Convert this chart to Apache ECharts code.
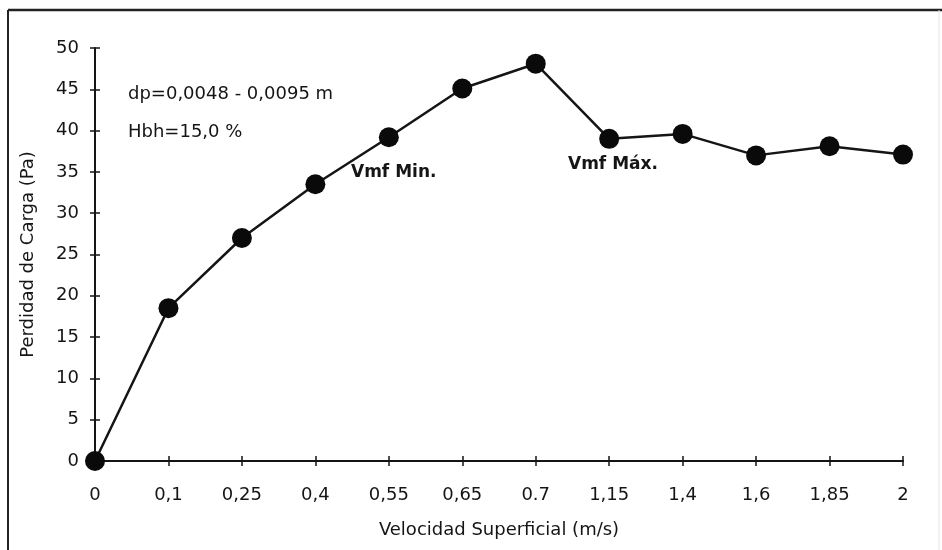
<!DOCTYPE html>
<html><head><meta charset="utf-8">
<script src="https://cdn.jsdelivr.net/npm/echarts@6/dist/echarts.min.js"></script>
<style>html,body{margin:0;padding:0;background:#fff}#c{width:942px;height:550px}</style>
</head><body><div id="c"></div>
<script>
const categories = ['0','0,1','0,25','0,4','0,55','0,65','0.7','1,15','1,4','1,6','1,85','2'];
const values = [0, 18.5, 27, 33.5, 39.2, 45.1, 48.1, 39, 39.6, 37, 38.1, 37.1];
const yTicks = {min: 0, max: 50, interval: 5};
const FONT = '"DejaVu Sans", Verdana, sans-serif';
const INK = '#151515';

const chart = echarts.init(document.getElementById('c'), null, {renderer: 'canvas'});
const baseX = {
  type: 'category', data: categories, boundaryGap: false, position: 'bottom',
  axisLine: {lineStyle: {color: INK, width: 2}},
  axisTick: {show: true, alignWithLabel: true, length: 5, lineStyle: {color: INK, width: 1.5}},
  axisLabel: {color: INK, fontFamily: FONT, fontSize: 18, margin: 25},
  splitLine: {show: false}
};
const baseY = {
  type: 'value', min: yTicks.min, max: yTicks.max, interval: yTicks.interval, position: 'left',
  axisLine: {show: true, lineStyle: {color: INK, width: 2}},
  axisTick: {show: true, length: 5, lineStyle: {color: INK, width: 1.5}},
  axisLabel: {color: INK, fontFamily: FONT, fontSize: 18, margin: 16},
  splitLine: {show: false}
};
chart.setOption({
  backgroundColor: '#fff',
  animation: false,
  grid: {left: 95, right: 39, top: 48, bottom: 89},
  xAxis: [
    Object.assign({}, baseX, {
      name: 'Velocidad Superficial (m/s)', nameLocation: 'middle', nameGap: 60,
      nameTextStyle: {color: INK, fontFamily: FONT, fontSize: 18}
    }),
    Object.assign({}, baseX, {
      axisLine: {show: false}, axisLabel: {show: false},
      axisTick: {show: true, inside: true, alignWithLabel: true, length: 5, lineStyle: {color: INK, width: 1.5}}
    })
  ],
  yAxis: [
    Object.assign({}, baseY, {
      name: 'Perdidad de Carga (Pa)', nameLocation: 'middle', nameGap: 58,
      nameTextStyle: {color: INK, fontFamily: FONT, fontSize: 18}
    }),
    Object.assign({}, baseY, {
      axisLine: {show: false}, axisLabel: {show: false},
      axisTick: {show: true, inside: true, length: 5, lineStyle: {color: INK, width: 1.5}}
    })
  ],
  series: [{
    type: 'line', data: values, xAxisIndex: 0, yAxisIndex: 0,
    symbol: 'circle', symbolSize: 20, showAllSymbol: true,
    lineStyle: {color: INK, width: 2.5},
    itemStyle: {color: '#0a0a0a'},
    z: 5
  }],
  graphic: [
    {type: 'line', shape: {x1: 8, y1: 10, x2: 8, y2: 550}, style: {stroke: '#222', lineWidth: 2}},
    {type: 'line', shape: {x1: 8, y1: 10, x2: 942, y2: 10}, style: {stroke: '#222', lineWidth: 2.5}},
    {type: 'line', shape: {x1: 939, y1: 10, x2: 939, y2: 550}, style: {stroke: '#e4e4e4', lineWidth: 1}},
    {type: 'text', left: 128, top: 85, style: {text: 'dp=0,0048 - 0,0095 m', fill: INK, font: '18px "DejaVu Sans", Verdana, sans-serif'}},
    {type: 'text', left: 128, top: 123, style: {text: 'Hbh=15,0 %', fill: INK, font: '18px "DejaVu Sans", Verdana, sans-serif'}},
    {type: 'text', left: 351, top: 164, z: 10, style: {text: 'Vmf Min.', fill: INK, font: 'bold 17px "DejaVu Sans", Verdana, sans-serif'}},
    {type: 'text', left: 568, top: 156, z: 10, style: {text: 'Vmf Máx.', fill: INK, font: 'bold 17px "DejaVu Sans", Verdana, sans-serif'}}
  ]
});
</script></body></html>
